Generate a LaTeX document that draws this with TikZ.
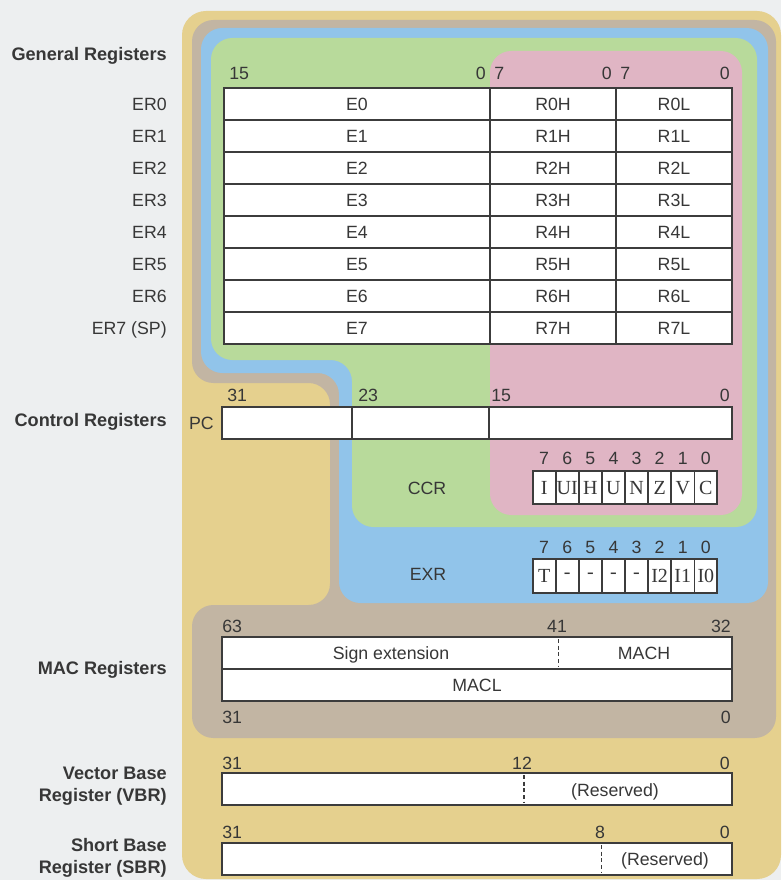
\documentclass[tikz,border=0pt]{standalone}
\usepackage{fontspec}
\setmainfont{Liberation Sans}
\newfontfamily\flagfont{Liberation Serif}
\definecolor{bggray}{RGB}{237,239,240}
\definecolor{ochre}{RGB}{229,208,142}
\definecolor{taupe}{RGB}{194,181,163}
\definecolor{skyblue}{RGB}{145,196,234}
\definecolor{leaf}{RGB}{184,218,155}
\definecolor{rose}{RGB}{224,181,196}
\definecolor{boxgray}{RGB}{60,60,60}
\definecolor{txtgray}{RGB}{55,55,55}
\tikzset{
  regcell/.style={draw=boxgray, fill=white, line width=1.8pt},
  flagcell/.style={draw=boxgray, fill=white, line width=1.2pt},
  txt/.style={text=txtgray, font=\fontsize{13.3}{16}\selectfont, inner sep=0pt, text depth=0pt},
  bitnum/.style={txt},
  grouplabel/.style={text=txtgray, font=\fontsize{13.6}{16.5}\selectfont\bfseries, anchor=east, align=right, inner sep=0pt},
  flag/.style={text=txtgray, font={\flagfont\fontsize{15}{17}\selectfont}, inner sep=0pt, text depth=0pt},
  split/.style={draw=boxgray, line width=1.2pt, dash pattern=on 3pt off 2pt},
}
\begin{document}
\begin{tikzpicture}[x=0.75pt,y=-0.75pt]
        % background and coloured areas
        \fill[bggray] (0,0) rectangle (781,880);
        \fill[ochre, rounded corners=18pt] (182,11) rectangle (781,879);
        \fill[taupe, rounded corners=16pt] (192,20) -- (776,20) -- (776,738) -- (192,738) -- (192,605)
            -- (330,605) -- (330,383) -- (192,383) -- cycle;
        \fill[skyblue, rounded corners=16pt] (201,28) -- (768,28) -- (768,603) -- (339,603)
            -- (339,373) -- (201,373) -- cycle;
        \fill[leaf, rounded corners=16pt] (211,38) -- (757,38) -- (757,527) -- (352,527)
            -- (352,360) -- (211,360) -- cycle;
        \fill[rose, rounded corners=16pt] (490,51) rectangle (742,515);

        % general registers
        \node[grouplabel] (general) at (167,56) {General Registers};
        \node[bitnum, anchor=west] (gb15) at (229,73) {15};
        \node[bitnum, anchor=east] (gb0a) at (486,73) {0};
        \node[bitnum, anchor=west] (gb7a) at (494,73) {7};
        \node[bitnum, anchor=east] (gb0b) at (612,73) {0};
        \node[bitnum, anchor=west] (gb7b) at (620,73) {7};
        \node[bitnum, anchor=east] (gb0c) at (730,73) {0};
        \foreach \i/\lbl in {0/ER0,1/ER1,2/ER2,3/ER3,4/ER4,5/ER5,6/ER6,7/{ER7 (SP)}} {
            \pgfmathsetmacro\ya{88+32*\i}
            \draw[regcell] (224,\ya) rectangle (490,\ya+32);
            \draw[regcell] (490,\ya) rectangle (616,\ya+32);
            \draw[regcell] (616,\ya) rectangle (732,\ya+32);
            \node[txt] (e\i) at (357,\ya+16) {E\i};
            \node[txt] (rh\i) at (553,\ya+16) {R\i H};
            \node[txt] (rl\i) at (674,\ya+16) {R\i L};
            \node[txt, anchor=east] (er\i) at (167,\ya+16) {\lbl};
        }

        % control registers
        \node[grouplabel] (control) at (167,422) {Control Registers};
        \node[txt, anchor=east] (pc) at (214,423) {PC};
        \draw[regcell] (222,407) rectangle (352,439);
        \draw[regcell] (352,407) rectangle (489,439);
        \draw[regcell] (489,407) rectangle (732,439);
        \node[bitnum, anchor=west] (pb31) at (227,395) {31};
        \node[bitnum, anchor=west] (pb23) at (358,395) {23};
        \node[bitnum, anchor=west] (pb15) at (491,395) {15};
        \node[bitnum, anchor=east] (pb0) at (730,395) {0};

        \node[txt] (ccr) at (427,488) {CCR};
        \foreach \f [count=\k from 0] in {I,UI,H,U,N,Z,V,C} {
            \pgfmathsetmacro\xa{532.6+23.1*\k}
            \pgfmathtruncatemacro\b{7-\k}
            \draw[flagcell] (\xa,471) rectangle ++(23.1,33);
            \node[flag] (ccrf\k) at (\xa+11.55,488) {\f};
            \node[bitnum] (ccrb\k) at (\xa+11.55,458) {\b};
        }
        \draw[boxgray, line width=1.6pt] (532.6,471) rectangle (717.4,504);

        \node[txt] (exr) at (428,574) {EXR};
        \foreach \f [count=\k from 0] in {T,-,-,-,-,I2,I1,I0} {
            \pgfmathsetmacro\xa{532.6+23.1*\k}
            \pgfmathtruncatemacro\b{7-\k}
            \draw[flagcell] (\xa,559) rectangle ++(23.1,34);
            \node[flag] (exrf\k) at (\xa+11.55,576) {\f};
            \node[bitnum] (exrb\k) at (\xa+11.55,547) {\b};
        }
        \draw[boxgray, line width=1.6pt] (532.6,559) rectangle (717.4,593);

        % MAC registers
        \node[grouplabel] (mac) at (167,670) {MAC Registers};
        \draw[regcell] (222,637) rectangle (732,669);
        \draw[regcell] (222,669) rectangle (732,701);
        \draw[split] (558.5,639) -- (558.5,667);
        \node[bitnum, anchor=west] (mb63) at (222,626) {63};
        \node[bitnum] (mb41) at (557,626) {41};
        \node[bitnum, anchor=east] (mb32) at (731,626) {32};
        \node[bitnum, anchor=west] (mb31) at (222,717) {31};
        \node[bitnum, anchor=east] (mb0) at (731,717) {0};
        \node[txt] (signext) at (391,653) {Sign extension};
        \node[txt] (mach) at (644,653) {MACH};
        \node[txt] (macl) at (477,685) {MACL};

        % vector base register
        \node[grouplabel] (vbr) at (167,786) {Vector Base\\Register (VBR)};
        \draw[regcell] (222,773) rectangle (732,805);
        \draw[split] (524,775) -- (524,803);
        \node[bitnum, anchor=west] (vb31) at (222,763) {31};
        \node[bitnum] (vb12) at (522,763) {12};
        \node[bitnum, anchor=east] (vb0) at (730,763) {0};
        \node[txt] (vres) at (615,790) {(Reserved)};

        % short base register
        \node[grouplabel] (sbr) at (167,858) {Short Base\\Register (SBR)};
        \draw[regcell] (222,843) rectangle (732,875);
        \draw[split] (601.5,845) -- (601.5,873);
        \node[bitnum, anchor=west] (sb31) at (222,832) {31};
        \node[bitnum] (sb8) at (600,832) {8};
        \node[bitnum, anchor=east] (sb0) at (730,832) {0};
        \node[txt] (sres) at (665,859) {(Reserved)};
\end{tikzpicture}
\end{document}
